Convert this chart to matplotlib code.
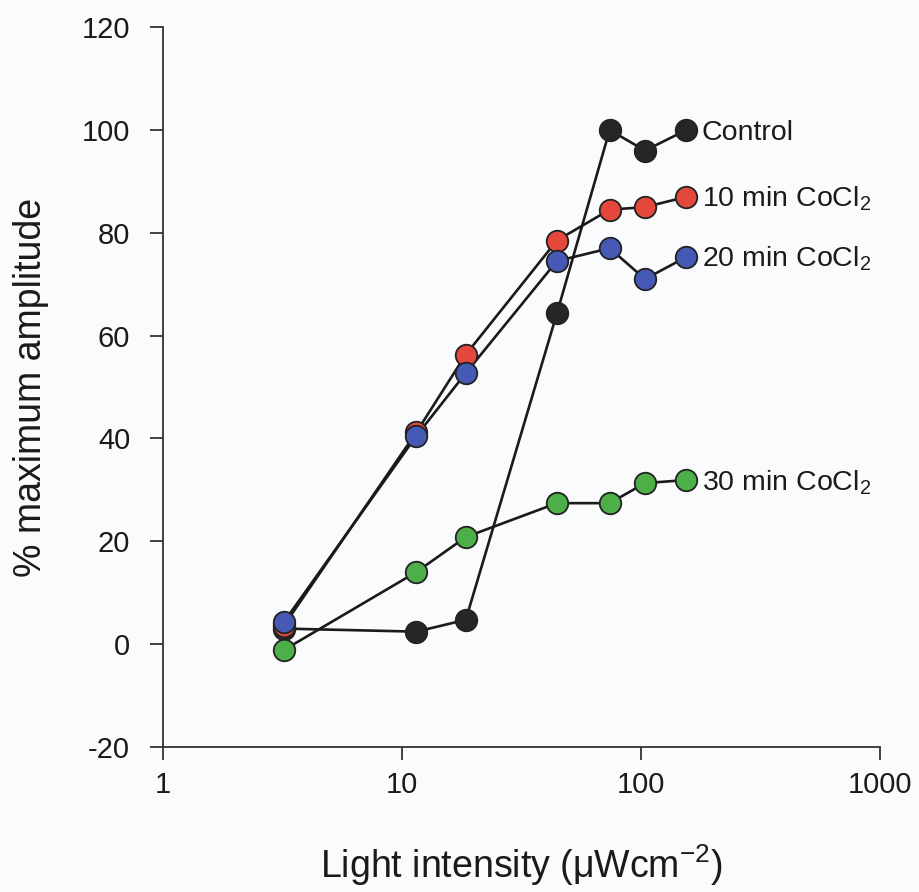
import matplotlib
matplotlib.use("Agg")
import matplotlib.pyplot as plt

plt.rcParams['font.family'] = ['Liberation Sans', 'DejaVu Sans']
plt.rcParams['mathtext.default'] = 'regular'
plt.rcParams['axes.unicode_minus'] = False

# Light intensity (uW cm^-2)
intensity = [3.2, 11.5, 18.5, 44.5, 74, 104, 155]

control = [3.0, 2.4, 4.7, 64.3, 100, 96, 100]
cocl2_10 = [3.5, 41.2, 56.3, 78.5, 84.5, 85.0, 87.0]
cocl2_20 = [4.2, 40.5, 52.7, 74.5, 77.0, 71.0, 75.3]
cocl2_30 = [-1.2, 14.0, 20.8, 27.4, 27.4, 31.3, 31.9]

series_labels = ["Control", "10 min CoCl$_2$", "20 min CoCl$_2$", "30 min CoCl$_2$"]
series_values = [control, cocl2_10, cocl2_20, cocl2_30]
series_colors = ["#262626", "#e4473c", "#4659b4", "#4caf48"]

xticks = [1, 10, 100, 1000]
xtick_labels = ["1", "10", "100", "1000"]
yticks = [-20, 0, 20, 40, 60, 80, 100, 120]

bg = "#f9fbfc"
fig = plt.figure(figsize=(9.2, 8.92), dpi=100, facecolor=bg)
ax = fig.add_axes([0.177, 0.1628, 0.7795, 0.8067], facecolor=bg)

# stacking: control at the bottom, 20 min on top
order = [0, 1, 3, 2]
for rank, i in enumerate(order):
    ax.plot(intensity, series_values[i], color="#1a1a1a", lw=1.9, zorder=2 + rank * 0.1)
    ax.plot(intensity, series_values[i], ls="none", marker="o", ms=15.5,
            mfc=series_colors[i], mec="#222222", mew=1.3, zorder=3 + rank * 0.1)
    ax.annotate(series_labels[i], xy=(intensity[-1], series_values[i][-1]),
                xytext=(11, -7.2), textcoords="offset points",
                ha="left", va="baseline", fontsize=20.5, color="#1a1a1a")

ax.set_xscale("log")
ax.set_xlim(1, 1000)
ax.set_ylim(-20, 120)
ax.set_xticks(xticks)
ax.set_xticklabels(xtick_labels)
ax.xaxis.set_minor_locator(matplotlib.ticker.NullLocator())
ax.set_yticks(yticks)

for s in ["top", "right"]:
    ax.spines[s].set_visible(False)
for s in ["left", "bottom"]:
    ax.spines[s].set_linewidth(1.3)
    ax.spines[s].set_color("#333333")

ax.tick_params(axis="both", direction="out", length=9.5, width=1.3, color="#333333",
               labelsize=21, labelcolor="#1a1a1a")
ax.tick_params(axis="x", pad=8)
ax.tick_params(axis="y", pad=14)

ax.set_xlabel("Light intensity (\u03bcWcm$^{-2}$)", fontsize=27, color="#1a1a1a", va="center")
ax.set_ylabel("% maximum amplitude", fontsize=27, color="#1a1a1a", va="center")
ax.xaxis.set_label_coords(0.5, -0.164)
ax.yaxis.set_label_coords(-0.184, 0.5)

fig.savefig("out.png", dpi=100, facecolor=bg)
